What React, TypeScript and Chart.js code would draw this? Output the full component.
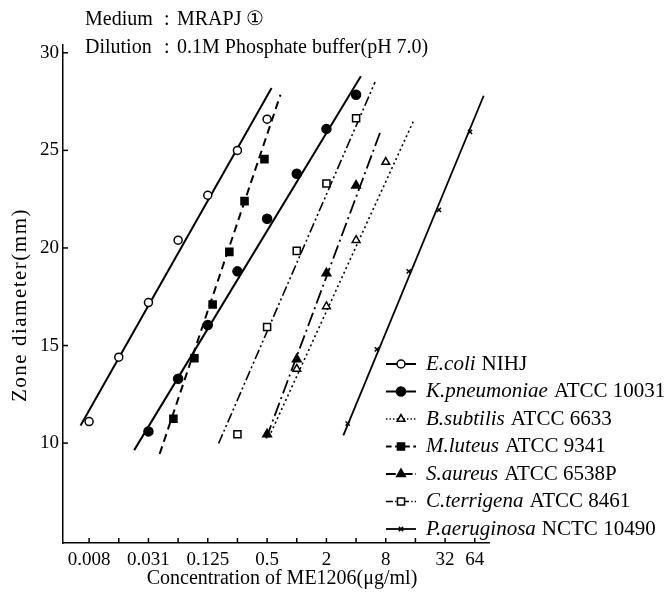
import React, { useEffect, useRef } from 'react';
import { Chart, registerables } from 'chart.js';
import { drawPoint } from 'chart.js/helpers';

Chart.register(...registerables);

// ---- axis ticks ----
const xTickConc = [0.0078125, 0.015625, 0.03125, 0.0625, 0.125, 0.25, 0.5, 1, 2, 4, 8, 16, 32, 64];
const xTickText = ['0.008', '', '0.031', '', '0.125', '', '0.5', '', '2', '', '8', '', '32', '64'];
const yTicks = [10, 15, 20, 25, 30];

// ---- data (concentration µg/ml, zone diameter mm) ----
const ecoliConc = [0.0078125, 0.015625, 0.03125, 0.0625, 0.125, 0.25, 0.5];
const ecoliZone = [11.1, 14.4, 17.2, 20.4, 22.7, 25.0, 26.6];
const ecoliFitConc = [0.0064, 0.555];
const ecoliFitZone = [10.9, 28.2];

const kpnConc = [0.03125, 0.0625, 0.125, 0.25, 0.5, 1, 2, 4];
const kpnZone = [10.6, 13.3, 16.05, 18.8, 21.5, 23.8, 26.1, 27.85];
const kpnFitConc = [0.0224, 4.47];
const kpnFitZone = [9.64, 28.8];

const bsuConc = [1, 2, 4, 8];
const bsuZone = [13.8, 17.0, 20.4, 24.4];
const bsuFitConc = [0.521, 15.6];
const bsuFitZone = [10.3, 26.6];

const mluConc = [0.056, 0.0915, 0.14, 0.207, 0.295, 0.47];
const mluZone = [11.25, 14.35, 17.1, 19.8, 22.4, 24.55];
const mluFitConc = [0.0406, 0.683];
const mluFitZone = [9.44, 27.85];

const sauConc = [0.5, 1, 2, 4];
const sauZone = [10.45, 14.3, 18.7, 23.2];
const sauFitConc = [0.49, 7.11];
const sauFitZone = [10.24, 26.0];

const cteConc = [0.25, 0.5, 1, 2, 4];
const cteZone = [10.45, 15.95, 19.85, 23.3, 26.65];
const cteFitConc = [0.161, 6.23];
const cteFitZone = [9.98, 28.5];

const paeConc = [3.29, 6.5, 13.7, 27.7, 57.3];
const paeZone = [11.0, 14.8, 18.8, 21.95, 25.95];
const paeFitConc = [2.97, 78.8];
const paeFitZone = [10.4, 27.8];

const speciesNames = ['E.coli', 'K.pneumoniae', 'B.subtilis', 'M.luteus', 'S.aureus', 'C.terrigena', 'P.aeruginosa'];
const strainNames = ['NIHJ', 'ATCC 10031', 'ATCC 6633', 'ATCC 9341', 'ATCC 6538P', 'ATCC 8461', 'NCTC 10490'];

const FONT = "'Liberation Serif', 'DejaVu Serif', serif";

type Style = { dash: number[]; lw: number; pointStyle: string; fill: string; radius: number };

const styles: Style[] = [
  { dash: [], lw: 2, pointStyle: 'circle', fill: '#fff', radius: 4 },
  { dash: [], lw: 2, pointStyle: 'circle', fill: '#000', radius: 4.5 },
  { dash: [2, 3], lw: 1.6, pointStyle: 'triangle', fill: '#fff', radius: 4.5 },
  { dash: [8, 5], lw: 2, pointStyle: 'rect', fill: '#000', radius: 5 },
  { dash: [14, 4, 2, 4], lw: 1.8, pointStyle: 'triangle', fill: '#000', radius: 5 },
  { dash: [10, 3, 2, 3, 2, 3], lw: 1.6, pointStyle: 'rect', fill: '#fff', radius: 5 },
  { dash: [], lw: 1.8, pointStyle: 'crossRot', fill: '#000', radius: 3 },
];

const seriesData = [
  [ecoliConc, ecoliZone, ecoliFitConc, ecoliFitZone],
  [kpnConc, kpnZone, kpnFitConc, kpnFitZone],
  [bsuConc, bsuZone, bsuFitConc, bsuFitZone],
  [mluConc, mluZone, mluFitConc, mluFitZone],
  [sauConc, sauZone, sauFitConc, sauFitZone],
  [cteConc, cteZone, cteFitConc, cteFitZone],
  [paeConc, paeZone, paeFitConc, paeFitZone],
];

const toPts = (c: number[], z: number[]) => c.map((v, i) => ({ x: Math.log2(v), y: z[i] }));

const decor = {
  id: 'decor',
  afterDraw(chart: any) {
    const { ctx, chartArea, scales } = chart;
    const xs = scales.x;
    const ys = scales.y;
    ctx.save();
    ctx.strokeStyle = '#000';
    ctx.fillStyle = '#000';
    ctx.lineWidth = 1.5;
    ctx.setLineDash([]);
    // inside tick marks
    xTickConc.forEach((v) => {
      const px = xs.getPixelForValue(Math.log2(v));
      ctx.beginPath();
      ctx.moveTo(px, chartArea.bottom);
      ctx.lineTo(px, chartArea.bottom - 5);
      ctx.stroke();
    });
    yTicks.forEach((v) => {
      const py = ys.getPixelForValue(v);
      ctx.beginPath();
      ctx.moveTo(chartArea.left, py);
      ctx.lineTo(chartArea.left + 5, py);
      ctx.stroke();
    });

    // header
    ctx.font = `20px ${FONT}`;
    ctx.textBaseline = 'middle';
    ctx.textAlign = 'left';
    ctx.fillText('Medium', 85, 20);
    ctx.fillText(':', 164, 20);
    ctx.fillText('MRAPJ ①', 177, 20);
    ctx.fillText('Dilution', 85, 48);
    ctx.fillText(':', 164, 48);
    ctx.fillText('0.1M Phosphate buffer(pH 7.0)', 177, 48);

    // axis titles
    ctx.textAlign = 'center';
    ctx.font = `20px ${FONT}`;
    ctx.fillText('Concentration of ME1206(μg/ml)', 282, 579);
    ctx.save();
    ctx.translate(20, 305);
    ctx.rotate(-Math.PI / 2);
    ctx.font = `21px ${FONT}`;
    (ctx as any).letterSpacing = '1.5px';
    ctx.fillText('Zone diameter(mm)', 0, 0);
    ctx.restore();

    // legend
    ctx.textAlign = 'left';
    speciesNames.forEach((name, i) => {
      const st = styles[i];
      const ly = 364 + 27.5 * i;
      ctx.lineWidth = st.lw;
      ctx.setLineDash(st.dash.map((d) => d * 0.7));
      ctx.beginPath();
      ctx.moveTo(386, ly);
      ctx.lineTo(416, ly);
      ctx.stroke();
      ctx.setLineDash([]);
      ctx.fillStyle = st.fill;
      ctx.strokeStyle = '#000';
      ctx.lineWidth = 1.5;
      drawPoint(ctx, { pointStyle: st.pointStyle as any, radius: st.radius, rotation: 0, borderWidth: 1.5 }, 401, ly);
      ctx.fillStyle = '#000';
      ctx.font = `italic 21px ${FONT}`;
      ctx.fillText(name, 426, ly);
      const w = ctx.measureText(name).width;
      ctx.font = `21px ${FONT}`;
      ctx.fillText(strainNames[i], 426 + w + 6, ly);
    });
    ctx.restore();
  },
};

export default function App() {
  const ref = useRef<HTMLCanvasElement>(null);
  useEffect(() => {
    if (!ref.current) return;
    const datasets: any[] = [];
    seriesData.forEach(([c, z, fc, fz], i) => {
      const st = styles[i];
      datasets.push({
        type: 'scatter',
        label: speciesNames[i],
        data: toPts(c, z),
        showLine: false,
        pointStyle: st.pointStyle,
        pointRadius: st.radius,
        pointBorderWidth: 1.5,
        pointBackgroundColor: st.fill,
        pointBorderColor: '#000',
        order: 0,
      });
      datasets.push({
        type: 'line',
        label: speciesNames[i] + ' fit',
        data: toPts(fc, fz),
        showLine: true,
        borderColor: '#000',
        borderWidth: st.lw,
        borderDash: st.dash,
        pointRadius: 0,
        fill: false,
        order: 1,
      });
    });
    const chart = new Chart(ref.current, {
      type: 'scatter',
      data: { datasets },
      plugins: [decor],
      options: {
        animation: false,
        responsive: false,
        devicePixelRatio: 1,
        layout: { padding: { top: 45, right: 180, left: 0, bottom: 0 } },
        plugins: { legend: { display: false }, tooltip: { enabled: false } },
        scales: {
          x: {
            type: 'linear',
            min: -7.88,
            max: 6.48,
            afterFit: (s: any) => { s.height = 49; },
            afterBuildTicks: (s: any) => { s.ticks = xTickConc.map((v) => ({ value: Math.log2(v) })); },
            grid: { display: true, drawOnChartArea: false, drawTicks: false },
            border: { display: true, color: '#000', width: 1.5 },
            ticks: {
              autoSkip: false,
              maxRotation: 0,
              padding: 6,
              color: '#000',
              font: { family: FONT, size: 19 },
              callback: (_v: any, idx: number) => xTickText[idx],
            },
          },
          y: {
            type: 'linear',
            min: 4.88,
            max: 30.4,
            afterFit: (s: any) => { s.width = 63; },
            afterBuildTicks: (s: any) => { s.ticks = yTicks.map((v) => ({ value: v })); },
            grid: { display: true, drawOnChartArea: false, drawTicks: false },
            border: { display: true, color: '#000', width: 1.5 },
            ticks: {
              padding: 4,
              color: '#000',
              font: { family: FONT, size: 19 },
              callback: (v: any) => String(v),
            },
          },
        },
      } as any,
    });
    return () => chart.destroy();
  }, []);
  return (
    <div style={{ position: 'absolute', left: 0, top: 0, width: 669, height: 592, background: '#fff' }}>
      <canvas ref={ref} width={669} height={592} />
    </div>
  );
}
